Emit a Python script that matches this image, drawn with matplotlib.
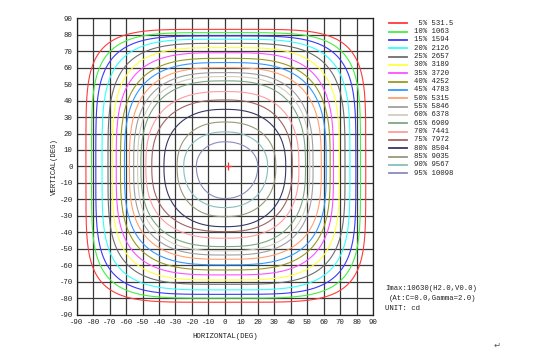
import numpy as np
import matplotlib
matplotlib.use("Agg")
import matplotlib.pyplot as plt

plt.rcParams["axes.unicode_minus"] = False

# Isocandela levels: percent of Imax and candela value
pct = [5, 10, 15, 20, 25, 30, 35, 40, 45, 50, 55, 60, 65, 70, 75, 80, 85, 90, 95]
cd = ["531.5", "1063", "1594", "2126", "2657", "3189", "3720", "4252", "4783",
      "5315", "5846", "6378", "6909", "7441", "7972", "8504", "9035", "9567", "10098"]
colors = ["#ff3a3a", "#44ee44", "#3838ff", "#30ffff", "#6e6e6e", "#ffff40", "#ff50ff",
          "#9a9a22", "#3399ff", "#ffa070", "#a0a0a0", "#cfcfbf", "#7fa67f", "#ff9c9c",
          "#a06262", "#363666", "#99997a", "#88bdbd", "#8a8abf"]

# Contour extents (deg) on the H and V axes
h_left = [-84.4, -81.0, -78.4, -74.6, -71.0, -68.4, -66.0, -63.4, -61.0, -58.0,
          -55.4, -53.0, -51.0, -48.0, -44.4, -37.0, -29.0, -25.0, -17.3]
h_right = [85.6, 82.4, 79.6, 76.0, 73.0, 69.6, 66.0, 64.0, 61.6, 58.6,
           53.6, 51.6, 49.0, 45.0, 41.0, 37.0, 31.0, 26.0, 20.0]
v_top = [83.3, 81.3, 79.3, 77.3, 74.8, 72.2, 69.1, 65.7, 63.1, 60.0,
         57.0, 54.6, 52.0, 45.5, 40.4, 34.7, 27.0, 21.0, 15.0]
v_bottom = [-82.5, -80.0, -77.7, -75.0, -71.6, -69.0, -65.9, -62.9, -59.8, -56.4,
            -53.8, -51.3, -48.7, -43.6, -39.6, -36.6, -30.5, -25.0, -19.5]
squareness = [5.0, 4.6, 4.3, 4.0, 3.8, 3.6, 3.4, 3.2, 3.1, 3.0,
              2.9, 2.8, 2.7, 2.6, 2.5, 2.4, 2.3, 2.2, 2.1]

imax_h, imax_v = 2.0, 0.0
ticks = list(range(-90, 91, 10))

mono = "Liberation Mono"
W, H = 550, 350
fig = plt.figure(figsize=(W / 100, H / 100), dpi=100)
ax = fig.add_axes([76.7 / W, 1 - 314.6 / H, 296.3 / W, 296.3 / H])

ax.set_xlim(-90, 90)
ax.set_ylim(-90, 90)
for t in ticks:
    ax.axvline(t, color="#3a3a3a", lw=0.9, zorder=1)
    ax.axhline(t, color="#3a3a3a", lw=0.9, zorder=1)

th = np.linspace(0, 2 * np.pi, 721)
c, s = np.cos(th), np.sin(th)
for i in range(len(pct)):
    n = squareness[i]
    ex = np.abs(c) ** (2.0 / n)
    ey = np.abs(s) ** (2.0 / n)
    x = np.where(c >= 0, ex * h_right[i], ex * h_left[i])
    y = np.where(s >= 0, ey * v_top[i], ey * v_bottom[i])
    ax.plot(x, y, color=colors[i], lw=0.8, zorder=2)

ax.plot([imax_h], [imax_v], marker="+", color="#ff3030", ms=6, mew=0.9, zorder=3)

ax.set_xticks(ticks)
ax.set_yticks(ticks)
ax.tick_params(length=0, pad=3, labelsize=5.3, labelcolor="#222222")
for lab in ax.get_xticklabels() + ax.get_yticklabels():
    lab.set_fontfamily(mono)
for sp in ax.spines.values():
    sp.set_color("#222222")
    sp.set_linewidth(0.9)
ax.set_xlabel("HORIZONTAL(DEG)", fontsize=5.3, family=mono, labelpad=5, color="#222222")
ax.set_ylabel("VERTICAL(DEG)", fontsize=5.3, family=mono, labelpad=1, color="#222222")

# Legend column
for i in range(len(pct)):
    yp = 1 - (23.3 + 8.33 * i) / H
    fig.add_artist(plt.Line2D([389 / W, 407 / W], [yp, yp], color=colors[i], lw=1.3))
    fig.text(414 / W, yp, f"{pct[i]:>2d}% {cd[i]}", fontsize=5.2, family=mono,
             va="center", ha="left", color="#222222")

fig.text(385 / W, 1 - 289 / H, "Imax:10630(H2.0,V0.0)", fontsize=5.2, family=mono,
         va="center", color="#222222")
fig.text(389 / W, 1 - 298.5 / H, "(At:C=0.0,Gamma=2.0)", fontsize=5.2, family=mono,
         va="center", color="#222222")
fig.text(385 / W, 1 - 309 / H, "UNIT: cd", fontsize=5.2, family=mono,
         va="center", color="#222222")
fig.text(497 / W, 1 - 345 / H, "\u21b5", fontsize=6, family="DejaVu Sans",
         va="center", ha="center", color="#555555")

fig.savefig("out.png", dpi=100, facecolor="white")
